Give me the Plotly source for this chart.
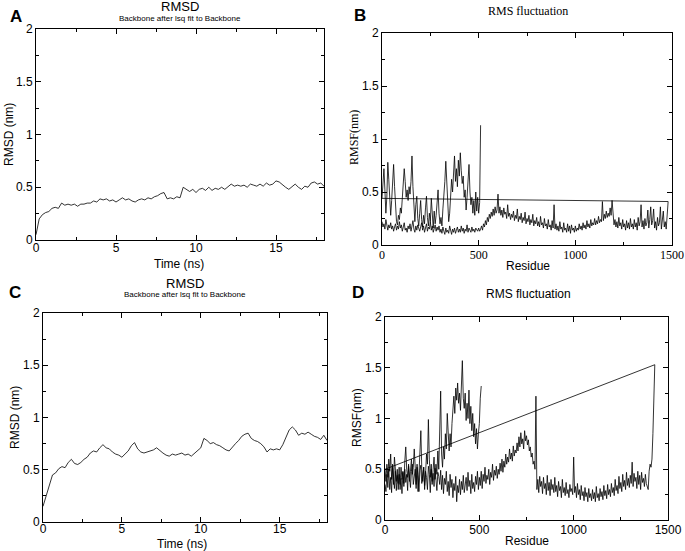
import plotly.graph_objects as go

W, H = 685, 551

# RMSD, panel A (time step 0.2 ns)
time_a = [round(i * 0.2, 1) for i in range(91)]
rmsd_a = [
    0.05, 0.20, 0.24, 0.26, 0.27, 0.30, 0.31, 0.30, 0.35, 0.33,
    0.34, 0.33, 0.34, 0.32, 0.34, 0.34, 0.35, 0.35, 0.37, 0.36,
    0.39, 0.38, 0.39, 0.37, 0.38, 0.36, 0.38, 0.40, 0.38, 0.39,
    0.37, 0.36, 0.38, 0.39, 0.38, 0.40, 0.39, 0.41, 0.42, 0.44,
    0.45, 0.39, 0.40, 0.39, 0.41, 0.40, 0.50, 0.48, 0.46, 0.48,
    0.45, 0.48, 0.49, 0.47, 0.50, 0.47, 0.49, 0.48, 0.50, 0.48,
    0.51, 0.53, 0.51, 0.52, 0.51, 0.52, 0.50, 0.53, 0.52, 0.51,
    0.53, 0.51, 0.54, 0.52, 0.53, 0.56, 0.55, 0.52, 0.50, 0.48,
    0.51, 0.53, 0.50, 0.48, 0.51, 0.50, 0.54, 0.55, 0.53, 0.54,
    0.51,
]

# RMSD, panel C
time_c = [round(i * 0.2, 1) for i in range(91)]
rmsd_c = [
    0.15, 0.25, 0.36, 0.45, 0.47, 0.51, 0.53, 0.52, 0.57, 0.60,
    0.56, 0.55, 0.57, 0.60, 0.62, 0.66, 0.68, 0.67, 0.71, 0.74,
    0.71, 0.70, 0.67, 0.65, 0.64, 0.62, 0.65, 0.68, 0.73, 0.76,
    0.70, 0.67, 0.66, 0.67, 0.68, 0.69, 0.71, 0.68, 0.66, 0.64,
    0.63, 0.65, 0.64, 0.65, 0.66, 0.64, 0.65, 0.63, 0.66, 0.68,
    0.71, 0.80, 0.78, 0.75, 0.76, 0.74, 0.73, 0.71, 0.69, 0.68,
    0.72, 0.75, 0.78, 0.82, 0.84, 0.85, 0.80, 0.78, 0.77, 0.75,
    0.72, 0.67, 0.70, 0.69, 0.70, 0.69, 0.74, 0.82, 0.88, 0.91,
    0.88, 0.83, 0.85, 0.84, 0.86, 0.84, 0.82, 0.81, 0.79, 0.83,
    0.78,
]

# RMSF, panel B: chain 1 (every 5 residues, 0-1480) then chain 2 (every 5, 0-510)
rmsf_b_chain1 = [
    0.22, 0.17, 0.20, 0.15, 0.24, 0.18, 0.14, 0.19, 0.16, 0.21, 0.15, 0.18, 0.13, 0.17, 0.20, 0.14, 0.18, 0.15, 0.22, 0.16,
    0.19, 0.13, 0.17, 0.21, 0.14, 0.16, 0.12, 0.18, 0.15, 0.20, 0.13, 0.17, 0.23, 0.15, 0.12, 0.18, 0.14, 0.19, 0.16, 0.13,
    0.17, 0.21, 0.14, 0.18, 0.12, 0.16, 0.20, 0.13, 0.17, 0.15, 0.22, 0.14, 0.18, 0.12, 0.16, 0.19, 0.13, 0.17, 0.14, 0.18,
    0.12, 0.15, 0.11, 0.17, 0.13, 0.10, 0.16, 0.12, 0.14, 0.11, 0.18, 0.13, 0.10, 0.15, 0.12, 0.16, 0.11, 0.14, 0.17, 0.12,
    0.15, 0.12, 0.18, 0.13, 0.16, 0.11, 0.15, 0.13, 0.19, 0.12, 0.16, 0.14, 0.12, 0.17, 0.13, 0.15, 0.12, 0.16, 0.14, 0.13,
    0.16, 0.13, 0.15, 0.18, 0.14, 0.20, 0.17, 0.23, 0.19, 0.26, 0.22, 0.29, 0.25, 0.31, 0.27, 0.34, 0.28, 0.36, 0.30, 0.33,
    0.48, 0.30, 0.36, 0.28, 0.33, 0.26, 0.35, 0.29, 0.31, 0.25, 0.38, 0.27, 0.30, 0.24, 0.29, 0.26, 0.32, 0.23, 0.28, 0.25,
    0.34, 0.22, 0.27, 0.24, 0.30, 0.21, 0.26, 0.23, 0.31, 0.20, 0.25, 0.22, 0.28, 0.19, 0.24, 0.21, 0.29, 0.18, 0.23, 0.20,
    0.26, 0.18, 0.22, 0.17, 0.27, 0.19, 0.21, 0.16, 0.25, 0.18, 0.20, 0.15, 0.24, 0.17, 0.19, 0.14, 0.23, 0.16, 0.38, 0.15,
    0.20, 0.14, 0.18, 0.13, 0.22, 0.15, 0.17, 0.12, 0.21, 0.14, 0.16, 0.12, 0.20, 0.13, 0.18, 0.11, 0.19, 0.14, 0.16, 0.12,
    0.18, 0.13, 0.16, 0.14, 0.20, 0.15, 0.18, 0.14, 0.21, 0.16, 0.19, 0.15, 0.23, 0.17, 0.20, 0.16, 0.24, 0.18, 0.21, 0.19,
    0.25, 0.19, 0.23, 0.20, 0.27, 0.21, 0.24, 0.22, 0.41, 0.23, 0.29, 0.25, 0.32, 0.26, 0.30, 0.27, 0.35, 0.28, 0.42, 0.30,
    0.19, 0.24, 0.17, 0.22, 0.16, 0.26, 0.18, 0.21, 0.15, 0.24, 0.17, 0.20, 0.14, 0.23, 0.16, 0.21, 0.15, 0.25, 0.17, 0.20,
    0.15, 0.24, 0.17, 0.21, 0.14, 0.26, 0.18, 0.22, 0.38, 0.17, 0.23, 0.15, 0.25, 0.18, 0.21, 0.33, 0.16, 0.24, 0.36, 0.19,
    0.23, 0.34, 0.16, 0.22, 0.14, 0.26, 0.18, 0.21, 0.36, 0.15, 0.24, 0.32, 0.17, 0.22, 0.15, 0.28, 0.41,
]
rmsf_b_chain2 = [
    0.44, 0.60, 0.72, 0.52, 0.30, 0.45, 0.78, 0.62, 0.35, 0.28,
    0.42, 0.58, 0.76, 0.55, 0.32, 0.22, 0.19, 0.28, 0.24, 0.35,
    0.30, 0.42, 0.55, 0.72, 0.60, 0.45, 0.52, 0.42, 0.55, 0.48,
    0.60, 0.84, 0.55, 0.30, 0.22, 0.38, 0.46, 0.25, 0.18, 0.30,
    0.42, 0.24, 0.17, 0.28, 0.20, 0.35, 0.46, 0.26, 0.18, 0.30,
    0.22, 0.44, 0.25, 0.16, 0.32, 0.20, 0.28, 0.38, 0.52, 0.30,
    0.20, 0.26, 0.18, 0.34, 0.45, 0.60, 0.79, 0.55, 0.35, 0.22,
    0.30, 0.45, 0.62, 0.50, 0.70, 0.84, 0.60, 0.72, 0.55, 0.80,
    0.65, 0.87, 0.70, 0.58, 0.65, 0.45, 0.52, 0.33, 0.45, 0.60,
    0.76, 0.50, 0.38, 0.45, 0.30, 0.42, 0.28, 0.50, 0.32, 0.45,
    0.30, 0.40, 1.13,
]

# RMSF, panel D: chain 1 (every 5, 0-1430) then chain 2 (every 5, 0-510)
rmsf_d_chain1 = [
    0.35, 0.28, 0.45, 0.32, 0.50, 0.30, 0.42, 0.27, 0.55, 0.38, 0.31, 0.48, 0.29, 0.44, 0.36, 0.52, 0.30, 0.41, 0.26, 0.47,
    0.33, 0.50, 0.37, 0.45, 0.29, 0.53, 0.40, 0.32, 0.48, 0.55, 0.35, 0.46, 0.50, 0.31, 0.52, 0.44, 0.28, 0.49, 0.54, 0.36,
    0.47, 0.52, 0.34, 0.48, 0.42, 0.30, 0.53, 0.45, 0.27, 0.50, 0.38, 0.46, 0.33, 0.51, 0.40, 0.29, 0.47, 0.43, 0.35, 0.49,
    0.30, 0.44, 0.26, 0.41, 0.35, 0.48, 0.28, 0.38, 0.24, 0.45, 0.32, 0.40, 0.22, 0.36, 0.29, 0.43, 0.18, 0.34, 0.27, 0.40,
    0.25, 0.38, 0.30, 0.44, 0.27, 0.36, 0.42, 0.29, 0.47, 0.33, 0.39, 0.26, 0.45, 0.31, 0.37, 0.28, 0.43, 0.35, 0.48, 0.30,
    0.42, 0.34, 0.48, 0.31, 0.45, 0.38, 0.52, 0.36, 0.44, 0.40, 0.50, 0.35, 0.47, 0.42, 0.55, 0.39, 0.49, 0.44, 0.53, 0.41,
    0.50, 0.45, 0.56, 0.48, 0.60, 0.47, 0.58, 0.52, 0.65, 0.55, 0.62, 0.57, 0.70, 0.60, 0.66, 0.58, 0.73, 0.63, 0.69, 0.66,
    0.76, 0.68, 0.82, 0.72, 0.86, 0.75, 0.80, 0.70, 0.88, 0.78, 0.83, 0.74, 0.79, 0.68, 0.72, 0.62, 0.66, 0.55, 0.58, 0.50,
    1.22, 0.30, 0.40, 0.27, 0.43, 0.33, 0.38, 0.26, 0.42, 0.31, 0.36, 0.25, 0.44, 0.29, 0.37, 0.24, 0.40, 0.30, 0.35, 0.27,
    0.42, 0.28, 0.34, 0.23, 0.38, 0.29, 0.33, 0.22, 0.40, 0.27, 0.32, 0.24, 0.37, 0.26, 0.30, 0.22, 0.35, 0.28, 0.31, 0.25,
    0.62, 0.27, 0.33, 0.22, 0.36, 0.25, 0.30, 0.20, 0.34, 0.24, 0.28, 0.19, 0.32, 0.23, 0.27, 0.18, 0.31, 0.22, 0.26, 0.19,
    0.30, 0.21, 0.27, 0.18, 0.33, 0.22, 0.26, 0.19, 0.31, 0.23, 0.28, 0.20, 0.34, 0.24, 0.29, 0.21, 0.35, 0.25, 0.30, 0.23,
    0.36, 0.27, 0.32, 0.24, 0.40, 0.29, 0.34, 0.26, 0.43, 0.31, 0.37, 0.28, 0.45, 0.33, 0.39, 0.30, 0.47, 0.34, 0.41, 0.32,
    0.44, 0.36, 0.57, 0.33, 0.46, 0.38, 0.42, 0.31, 0.48, 0.35, 0.44, 0.30, 0.47, 0.37, 0.41, 0.33, 0.45, 0.36, 0.32, 0.30,
    0.48, 0.55, 0.52, 0.60, 0.85, 1.25, 1.53,
]
rmsf_d_chain2 = [
    0.50, 0.38, 0.55, 0.42, 0.60, 0.48, 0.65, 0.40, 0.52, 0.35,
    0.62, 0.45, 0.38, 0.50, 0.30, 0.45, 0.35, 0.52, 0.40, 0.48,
    0.36, 0.58, 0.72, 0.50, 0.42, 0.55, 0.38, 0.48, 0.60, 0.45,
    0.52, 0.70, 0.48, 0.35, 0.55, 0.28, 0.45, 0.62, 0.88, 0.50,
    0.38, 0.52, 0.30, 0.45, 0.65, 0.55, 0.99, 0.60, 0.42, 0.55,
    0.35, 0.50, 0.62, 0.40, 0.55, 0.45, 0.68, 0.50, 0.80, 1.27,
    0.65, 0.52, 0.72, 0.60, 0.85, 0.70, 1.05, 0.78, 0.68, 0.85,
    0.72, 0.95, 1.10, 1.22, 1.05, 1.30, 1.18, 1.35, 1.15, 1.25,
    1.08, 1.30, 1.57, 1.20, 1.10, 1.25, 0.98, 1.15, 1.00, 1.28,
    0.95, 1.12, 0.88, 1.05, 0.82, 0.95, 0.75, 0.90, 0.70, 0.85,
    0.95, 1.20, 1.32,
]

res_b = [5 * i for i in range(len(rmsf_b_chain1))] + [5 * i for i in range(len(rmsf_b_chain2))]
val_b = rmsf_b_chain1 + rmsf_b_chain2
res_d = [5 * i for i in range(len(rmsf_d_chain1))] + [5 * i for i in range(len(rmsf_d_chain2))]
val_d = rmsf_d_chain1 + rmsf_d_chain2

SANS = "Liberation Sans, Arial, sans-serif"
SERIF = "Liberation Serif, Times New Roman, serif"


def px(x, y):
    return x / W, 1 - y / H


def dom(x0, x1, y0, y1):
    return [x0 / W, x1 / W], [1 - y1 / H, 1 - y0 / H]


def axis(domain, rng, dtick, minor, anchor, font=SANS, standoff=0):
    return dict(
        domain=domain, range=rng, anchor=anchor, dtick=dtick, tick0=0,
        automargin=False,
        showline=True, linecolor="black", linewidth=1, mirror="ticks",
        ticks="inside", ticklen=5, tickcolor="black", tickwidth=1,
        minor=dict(ticks="inside", ticklen=3, dtick=minor, tickcolor="black"),
        showgrid=False, zeroline=False, ticklabelstandoff=standoff,
        tickfont=dict(family=font, size=12, color="black"),
    )


line = dict(color="black", width=0.8)
fig = go.Figure()
fig.add_trace(go.Scatter(x=time_a, y=rmsd_a, mode="lines", line=line, xaxis="x", yaxis="y"))
fig.add_trace(go.Scatter(x=res_b, y=val_b, mode="lines", line=line, xaxis="x2", yaxis="y2"))
fig.add_trace(go.Scatter(x=time_c, y=rmsd_c, mode="lines", line=line, xaxis="x3", yaxis="y3"))
fig.add_trace(go.Scatter(x=res_d, y=val_d, mode="lines", line=line, xaxis="x4", yaxis="y4"))

xa, ya = dom(36, 324, 29, 240)
xb, yb = dom(382, 672, 33, 245)
xc, yc = dom(43, 327, 313, 522)
xd, yd = dom(385, 668, 317, 520)

fig.update_layout(
    width=W, height=H, margin=dict(l=0, r=0, t=0, b=0, pad=0, autoexpand=False),
    paper_bgcolor="white", plot_bgcolor="white", showlegend=False,
    xaxis=axis(xa, [0, 18], 5, 2.5, "y", standoff=-3),
    yaxis=axis(ya, [0, 2], 0.5, 0.25, "x"),
    xaxis2=axis(xb, [0, 1500], 500, 250, "y2", font=SERIF, standoff=-1),
    yaxis2=axis(yb, [0, 2], 0.5, 0.25, "x2"),
    xaxis3=axis(xc, [0, 18], 5, 2.5, "y3", standoff=-4),
    yaxis3=axis(yc, [0, 2], 0.5, 0.25, "x3"),
    xaxis4=axis(xd, [0, 1500], 500, 250, "y4", standoff=-1),
    yaxis4=axis(yd, [0, 2], 0.5, 0.25, "x4"),
)

texts = [
    # (text, x, y, size, family, bold, angle)
    ("A", 16, 16, 17, SANS, True, 0),
    ("RMSD", 180, 7, 13, SANS, False, 0),
    ("Backbone after lsq fit to Backbone", 180, 19, 8, SANS, False, 0),
    ("Time (ns)", 179, 264, 12, SANS, False, 0),
    ("RMSD (nm)", 9, 135, 12, SANS, False, -90),
    ("B", 360, 15, 17, SANS, True, 0),
    ("RMS fluctuation", 528, 11, 12, SERIF, False, 0),
    ("Residue", 528, 266, 12, SANS, False, 0),
    ("RMSF(nm)", 354, 138, 12, SERIF, False, -90),
    ("C", 15, 292, 17, SANS, True, 0),
    ("RMSD", 185, 283, 13, SANS, False, 0),
    ("Backbone after lsq fit to Backbone", 185, 294, 8, SANS, False, 0),
    ("Time (ns)", 182, 544, 12, SANS, False, 0),
    ("RMSD (nm)", 15, 418, 12, SANS, False, -90),
    ("D", 358, 292, 17, SANS, True, 0),
    ("RMS fluctuation", 528, 294, 12, SANS, False, 0),
    ("Residue", 527, 541, 12, SANS, False, 0),
    ("RMSF(nm)", 357, 418, 12, SANS, False, -90),
]
for t, x, y, size, fam, bold, ang in texts:
    ax, ay = px(x, y)
    fig.add_annotation(
        text=f"<b>{t}</b>" if bold else t, x=ax, y=ay, xref="paper", yref="paper",
        showarrow=False, xanchor="center", yanchor="middle", textangle=ang,
        borderpad=0, font=dict(family=fam, size=size, color="black"),
    )

# drop the default page margin so the figure sits at the window's corner
page_css = (
    "document.documentElement.style.margin='0';"
    "document.documentElement.style.overflow='hidden';"
    "document.body.style.margin='0';"
    "document.body.style.overflow='hidden';"
)
fig.write_html("out.html", config={"displayModeBar": False}, post_script=page_css)
